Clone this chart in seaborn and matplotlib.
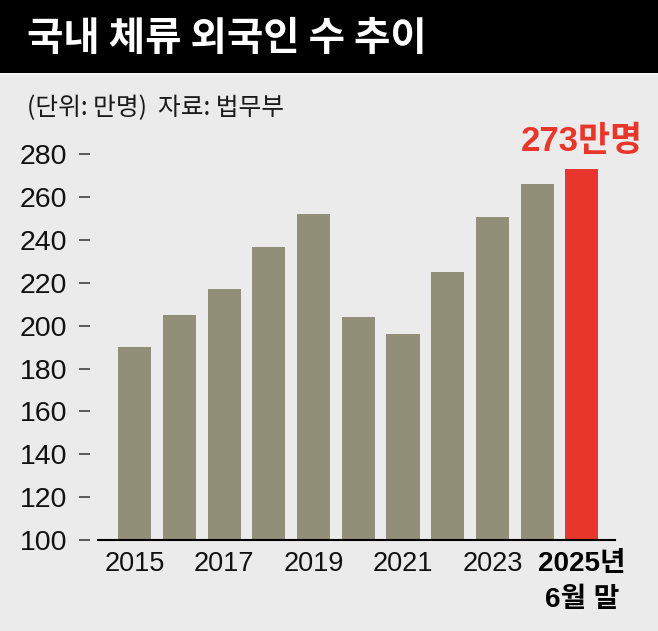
import matplotlib
matplotlib.use("Agg")
import matplotlib.pyplot as plt
from matplotlib import font_manager
from matplotlib.patches import Rectangle
import seaborn as sns

# data (unit: 10,000 people), source: Ministry of Justice
years = ['2015', '2016', '2017', '2018', '2019', '2020', '2021', '2022', '2023', '2024', '2025년\n6월 말']
residents = [190, 205, 217, 237, 252, 204, 196, 225, 251, 266, 273]
shown_ticks = [0, 2, 4, 6, 8, 10]
y_ticks = [100, 120, 140, 160, 180, 200, 220, 240, 260, 280]

bg = '#ebebeb'
bar_grey = '#918f78'
red = '#e8362a'

# narrow latin font if we have it
names = {f.name for f in font_manager.fontManager.ttflist}
narrow = 'Liberation Sans Narrow' if 'Liberation Sans Narrow' in names else 'Liberation Sans'
kr = 'Noto Sans CJK KR'

sns.set_style('white')
plt.rcParams['font.family'] = [narrow, kr, 'DejaVu Sans']

fig = plt.figure(figsize=(6.58, 6.31), dpi=100, facecolor=bg)

# black title band
fig.add_artist(Rectangle((0, 1 - 73 / 631), 1, 73 / 631, transform=fig.transFigure,
                         facecolor='black', edgecolor='none'))
fig.add_artist(Rectangle((0, 1 - 75 / 631), 1, 2 / 631, transform=fig.transFigure,
                         facecolor='#f7f7f7', edgecolor='none'))
fig.text(27 / 658, 1 - 38 / 631, '국내 체류 외국인 수 추이', color='white', fontsize=28.5,
         fontweight='bold', family=[kr], va='center', ha='left')
fig.text(27 / 658, 1 - 108 / 631, '(단위: 만명)  자료: 법무부', color='#1a1a1a', fontsize=17.8,
         family=[kr], va='center', ha='left')

ax = fig.add_axes([98 / 658, 1 - 540 / 631, (615 - 98) / 658, (540 - 133) / 631])
ax.set_facecolor('none')

colors = [bar_grey] * (len(years) - 1) + [red]
sns.barplot(x=years, y=residents, hue=years, palette=colors, legend=False,
            width=0.74, saturation=1, linewidth=0, edgecolor='none', ax=ax)

ax.set_xlim(-0.82, len(years) - 0.26)
ax.set_ylim(100, 290)

# y axis: free-standing dashes left of the plot
ax.spines['left'].set_visible(False)
ax.spines['left'].set_position(('outward', 6))
ax.spines['top'].set_visible(False)
ax.spines['right'].set_visible(False)
ax.spines['bottom'].set_linewidth(1.5)
ax.spines['bottom'].set_color('black')
ax.set_yticks(y_ticks)
ax.set_yticklabels([str(v) for v in y_ticks])
ax.tick_params(axis='y', left=True, direction='out', length=8, width=1.1,
               color='#333333', pad=8, labelsize=20.5, labelcolor='#111111')

ax.set_xticks(shown_ticks)
ax.set_xticklabels([years[i] for i in shown_ticks])
ax.tick_params(axis='x', length=0, pad=8, labelsize=19.5, labelcolor='#111111')
last = ax.get_xticklabels()[-1]
last.set_fontweight('bold')
last.set_fontsize(20)
last.set_linespacing(1.5)
last.set_color('black')

ax.set_xlabel('')
ax.set_ylabel('')

# label over the latest bar
ax.annotate(f'{residents[-1]}만명', xy=(len(years) - 1, residents[-1]), xytext=(0, 8),
            textcoords='offset points', ha='center', va='bottom', color=red,
            fontsize=25, fontweight='bold')

fig.savefig('out.png', dpi=100, facecolor=bg)
